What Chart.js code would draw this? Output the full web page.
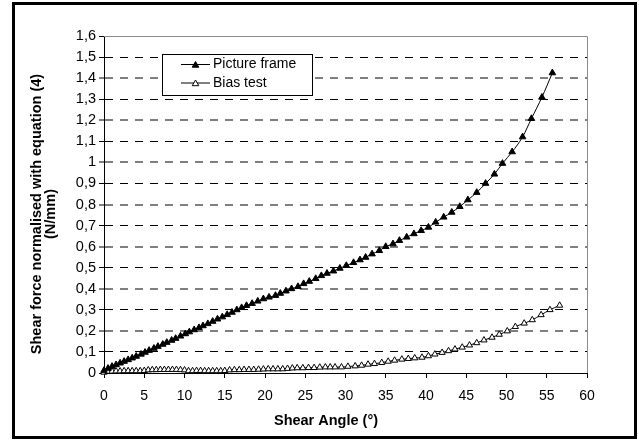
<!DOCTYPE html>
<html><head><meta charset="utf-8">
<script src="https://cdn.jsdelivr.net/npm/chart.js@4.4.0/dist/chart.umd.min.js"></script>
<style>html,body{margin:0;padding:0;background:#fff;overflow:hidden}#wrap{position:relative;width:639px;height:443px}</style>
</head><body><div id="wrap"><canvas id="c" width="639" height="443"></canvas></div>
<script>
const seriesNames = ['Picture frame', 'Bias test'];
const xTitle = 'Shear Angle (°)';
const yTitleLines = ['Shear force normalised with equation (4)', '(N/mm)'];

const pfAngle = [0,0.5,1.0,1.5,2.0,2.5,3.0,3.5,4.0,
  4.6,5.1,5.6,6.2,6.7,7.3,7.8,8.4,8.9,9.5,
  10.1,10.6,11.2,11.8,12.3,12.9,13.5,14.1,14.7,15.3,
  15.9,16.5,17.1,17.7,18.4,19.1,19.8,
  20.5,21.3,21.9,22.6,23.3,24.1,24.8,25.5,26.3,27.0,
  27.7,28.5,29.3,30.1,31.0,31.8,32.5,33.3,34.2,35.0,
  35.9,36.7,37.6,38.5,39.4,40.3,41.2,42.2,43.2,44.2,
  45.2,46.3,47.4,48.5,49.5,50.7,52.0,53.1,54.4,55.7];
const pfForce = [0.012,0.022,0.031,0.039,0.047,0.055,0.063,0.071,0.079,
  0.089,0.098,0.107,0.117,0.126,0.136,0.145,0.155,0.164,0.175,
  0.186,0.195,0.205,0.215,0.224,0.234,0.245,0.256,0.266,0.277,
  0.288,0.300,0.310,0.320,0.330,0.341,0.352,
  0.360,0.368,0.378,0.389,0.400,0.410,0.424,0.435,0.448,0.462,
  0.473,0.484,0.497,0.510,0.524,0.537,0.549,0.565,0.581,0.600,
  0.613,0.629,0.645,0.661,0.676,0.692,0.716,0.740,0.763,0.790,
  0.822,0.857,0.900,0.944,0.995,1.050,1.121,1.208,1.309,1.425];

const biasAngle = [0,0.5,1.0,1.5,2.0,2.5,3.0,3.5,4.0,4.5,
  5.0,5.5,6.0,6.5,7.0,7.5,8.0,8.5,9.0,9.5,
  10.0,10.5,11.0,11.5,12.0,12.5,13.0,13.5,14.0,14.5,
  15.0,15.6,16.2,16.8,17.4,18.0,18.6,19.2,19.8,20.4,
  21.0,21.6,22.2,22.8,23.4,24.0,24.7,25.4,26.1,26.8,
  27.5,28.1,28.7,29.5,30.3,31.2,32.0,32.8,33.6,34.5,
  35.3,36.1,37.0,37.8,38.6,39.5,40.3,41.1,42.0,42.8,
  43.6,44.5,45.4,46.3,47.2,48.2,49.1,50.1,51.1,52.2,
  53.2,54.3,55.4,56.6];
const biasForce = [0.003,0.006,0.008,0.009,0.009,0.010,0.010,0.010,0.010,0.010,
  0.011,0.014,0.015,0.015,0.016,0.016,0.016,0.016,0.016,0.015,
  0.014,0.010,0.010,0.011,0.011,0.010,0.010,0.010,0.010,0.010,
  0.011,0.014,0.015,0.015,0.016,0.016,0.016,0.017,0.018,0.019,
  0.019,0.019,0.019,0.021,0.023,0.024,0.024,0.025,0.025,0.027,
  0.028,0.028,0.028,0.028,0.031,0.033,0.036,0.041,0.044,0.049,
  0.055,0.060,0.065,0.068,0.071,0.074,0.081,0.089,0.097,0.105,
  0.113,0.122,0.132,0.143,0.156,0.169,0.183,0.199,0.220,0.236,
  0.252,0.276,0.300,0.321];

const xTickValues = [0,5,10,15,20,25,30,35,40,45,50,55,60];
const xTickLabels = ['0','5','10','15','20','25','30','35','40','45','50','55','60'];
const yTickValues = [0,0.1,0.2,0.3,0.4,0.5,0.6,0.7,0.8,0.9,1.0,1.1,1.2,1.3,1.4,1.5,1.6];
const yTickLabels = ['0','0,1','0,2','0,3','0,4','0,5','0,6','0,7','0,8','0,9','1','1,1','1,2','1,3','1,4','1,5','1,6'];

const FONT = "'Liberation Sans', Arial, sans-serif";

function triangle(c, x, y, r, fill) {
  c.beginPath();
  c.moveTo(x, y - r);
  c.lineTo(x + r * Math.sin(2 * Math.PI / 3), y - r * Math.cos(2 * Math.PI / 3));
  c.lineTo(x + r * Math.sin(4 * Math.PI / 3), y - r * Math.cos(4 * Math.PI / 3));
  c.closePath();
  c.fillStyle = fill; c.fill();
  c.strokeStyle = '#000'; c.lineWidth = 1; c.stroke();
}

const decor = {
  id: 'decor',
  beforeDraw(chart) {
    const c = chart.ctx;
    c.save(); c.fillStyle = '#fff'; c.fillRect(0, 0, chart.width, chart.height); c.restore();
  },
  beforeDatasetsDraw(chart) {
    const c = chart.ctx, a = chart.chartArea;
    c.save();
    c.strokeStyle = '#8c8c8c'; c.lineWidth = 1;
    c.beginPath();
    c.moveTo(Math.round(a.left), Math.round(a.top) + 0.5);
    c.lineTo(Math.round(a.right) + 0.5, Math.round(a.top) + 0.5);
    c.lineTo(Math.round(a.right) + 0.5, Math.round(a.bottom));
    c.stroke();
    c.restore();
  },
  afterDraw(chart) {
    const c = chart.ctx;
    c.save();
    c.strokeStyle = '#000'; c.lineWidth = 3;
    c.strokeRect(13.5, 3.5, 622, 434);
    c.fillStyle = '#000';
    c.font = 'bold 14.5px ' + FONT;
    c.textAlign = 'center'; c.textBaseline = 'middle';
    c.fillText(xTitle, 326, 421);
    c.save();
    c.translate(37, 214);
    c.rotate(-Math.PI / 2);
    c.fillText(yTitleLines[0], 0, 0);
    c.fillText(yTitleLines[1], 0, 14);
    c.restore();
    const lx = 162.5, ly = 54.5, lw = 150, lh = 41;
    c.fillStyle = '#fff'; c.fillRect(lx, ly, lw, lh);
    c.strokeStyle = '#000'; c.lineWidth = 1; c.strokeRect(lx, ly, lw, lh);
    const rows = [64.5, 83];
    const fills = ['#000', '#fff'];
    c.font = '14px ' + FONT; c.textAlign = 'left'; c.textBaseline = 'middle';
    for (let i = 0; i < 2; i++) {
      c.strokeStyle = '#000'; c.lineWidth = 1;
      c.beginPath(); c.moveTo(181, rows[i]); c.lineTo(210, rows[i]); c.stroke();
      triangle(c, 195.5, rows[i] + 0.8, 3.8, fills[i]);
      c.fillStyle = '#000';
      c.fillText(seriesNames[i], 213, rows[i]);
    }
    c.restore();
  }
};

new Chart(document.getElementById('c'), {
  type: 'scatter',
  data: {
    datasets: [
      {
        label: seriesNames[0],
        data: pfAngle.map((x, i) => ({ x: x, y: pfForce[i] })),
        showLine: true, borderColor: '#000', borderWidth: 1,
        cubicInterpolationMode: 'monotone',
        pointStyle: 'triangle', pointRadius: 3.8,
        pointBackgroundColor: '#000', pointBorderColor: '#000', pointBorderWidth: 1,
        clip: false
      },
      {
        label: seriesNames[1],
        data: biasAngle.map((x, i) => ({ x: x, y: biasForce[i] })),
        showLine: true, borderColor: '#000', borderWidth: 1,
        cubicInterpolationMode: 'monotone',
        pointStyle: 'triangle', pointRadius: 3.6,
        pointBackgroundColor: '#fff', pointBorderColor: '#000', pointBorderWidth: 1,
        clip: false
      }
    ]
  },
  options: {
    responsive: false, animation: false, devicePixelRatio: 1,
    layout: { padding: { left: 0, top: 36, right: 52, bottom: 0 } },
    plugins: { legend: { display: false }, tooltip: { enabled: false } },
    scales: {
      x: {
        type: 'linear', min: 0, max: 60,
        afterBuildTicks: s => { s.ticks = xTickValues.map(v => ({ value: v })); },
        afterFit: s => { s.height = 70; },
        ticks: { font: { family: FONT, size: 14 }, color: '#000', padding: 10, maxRotation: 0, autoSkip: false,
                 callback: (v, i) => xTickLabels[i] },
        grid: { drawOnChartArea: false, drawTicks: true, tickLength: 5, tickColor: '#000', tickWidth: 1 },
        border: { color: '#000', width: 1 }
      },
      y: {
        type: 'linear', min: 0, max: 1.6,
        afterBuildTicks: s => { s.ticks = yTickValues.map(v => ({ value: v })); },
        afterFit: s => { s.width = 104; },
        ticks: { font: { family: FONT, size: 14.5 }, color: '#000', padding: 3, autoSkip: false,
                 callback: (v, i) => yTickLabels[i] },
        grid: {
          color: ctx => {
            const i = ctx.index;
            if (i === 0 || i === yTickValues.length - 1) return 'rgba(0,0,0,0)';
            return i % 2 === 0 ? 'rgba(0,0,0,0.5)' : '#000';
          },
          lineWidth: ctx => {
            const i = ctx.index;
            if (i === 0 || i === yTickValues.length - 1) return 1;
            return i % 2 === 0 ? 2 : 1;
          },
          drawTicks: true, tickLength: 5, tickColor: '#000', tickWidth: 1
        },
        border: { color: '#000', width: 1, dash: [8, 7] }
      }
    }
  },
  plugins: [decor]
});
</script>
</body></html>
